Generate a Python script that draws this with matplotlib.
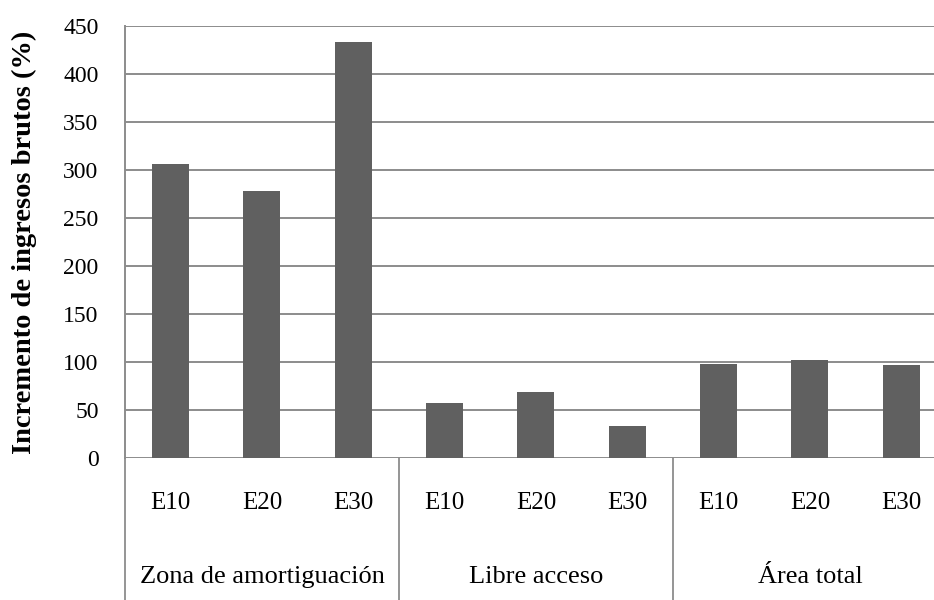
import numpy as np
import matplotlib.pyplot as plt
import matplotlib.transforms as mtransforms

# datos
escenarios = ["E10", "E20", "E30"]
zonas = ["Zona de amortiguación", "Libre acceso", "Área total"]
zona_amort = [306, 278, 433]
libre_acceso = [58, 69, 34]
area_total = [98, 102, 97]
yticks = [0, 50, 100, 150, 200, 250, 300, 350, 400, 450]

plt.rcParams['font.family'] = ['Liberation Serif', 'DejaVu Serif']

valores = zona_amort + libre_acceso + area_total
x = np.arange(len(valores))

fig = plt.figure(figsize=(9.34, 6.0), dpi=100)
ax = fig.add_axes([0.1338, 0.2362, 0.880, 0.7210])

ax.bar(x, valores, width=0.405, color='#606060', zorder=3)

ax.set_xlim(-0.5, len(valores) - 0.5)
ax.set_ylim(0, 450)
ax.set_yticks(yticks)
ax.set_yticklabels([str(v) for v in yticks], fontsize=17)
ax.tick_params(axis='y', length=0, pad=19)
ax.set_xticks([])
ax.yaxis.grid(True, color='#8c8c8c', linewidth=1.4, zorder=0)
for s in ['top', 'right', 'bottom']:
    ax.spines[s].set_visible(False)
ax.spines['left'].set_color('#8c8c8c')
ax.spines['left'].set_linewidth(1.4)
ax.set_ylabel('Incremento de ingresos brutos (%)', fontsize=20.5,
              fontweight='bold', labelpad=19)

# eje de categorías en dos niveles
trans = mtransforms.blended_transform_factory(ax.transData, ax.transAxes)
for i, xi in enumerate(x):
    ax.text(xi, -0.104, escenarios[i % 3], transform=trans, ha='center',
            va='center', fontsize=18)
for g, nombre in enumerate(zonas):
    ax.text(g * 3 + 1, -0.274, nombre, transform=trans, ha='center',
            va='center', fontsize=19)
for xd in [-0.5, 2.5, 5.5]:
    ax.plot([xd, xd], [0, -0.35], transform=trans, color='#8c8c8c',
            linewidth=1.3, clip_on=False)

fig.savefig('out.png', dpi=100)
